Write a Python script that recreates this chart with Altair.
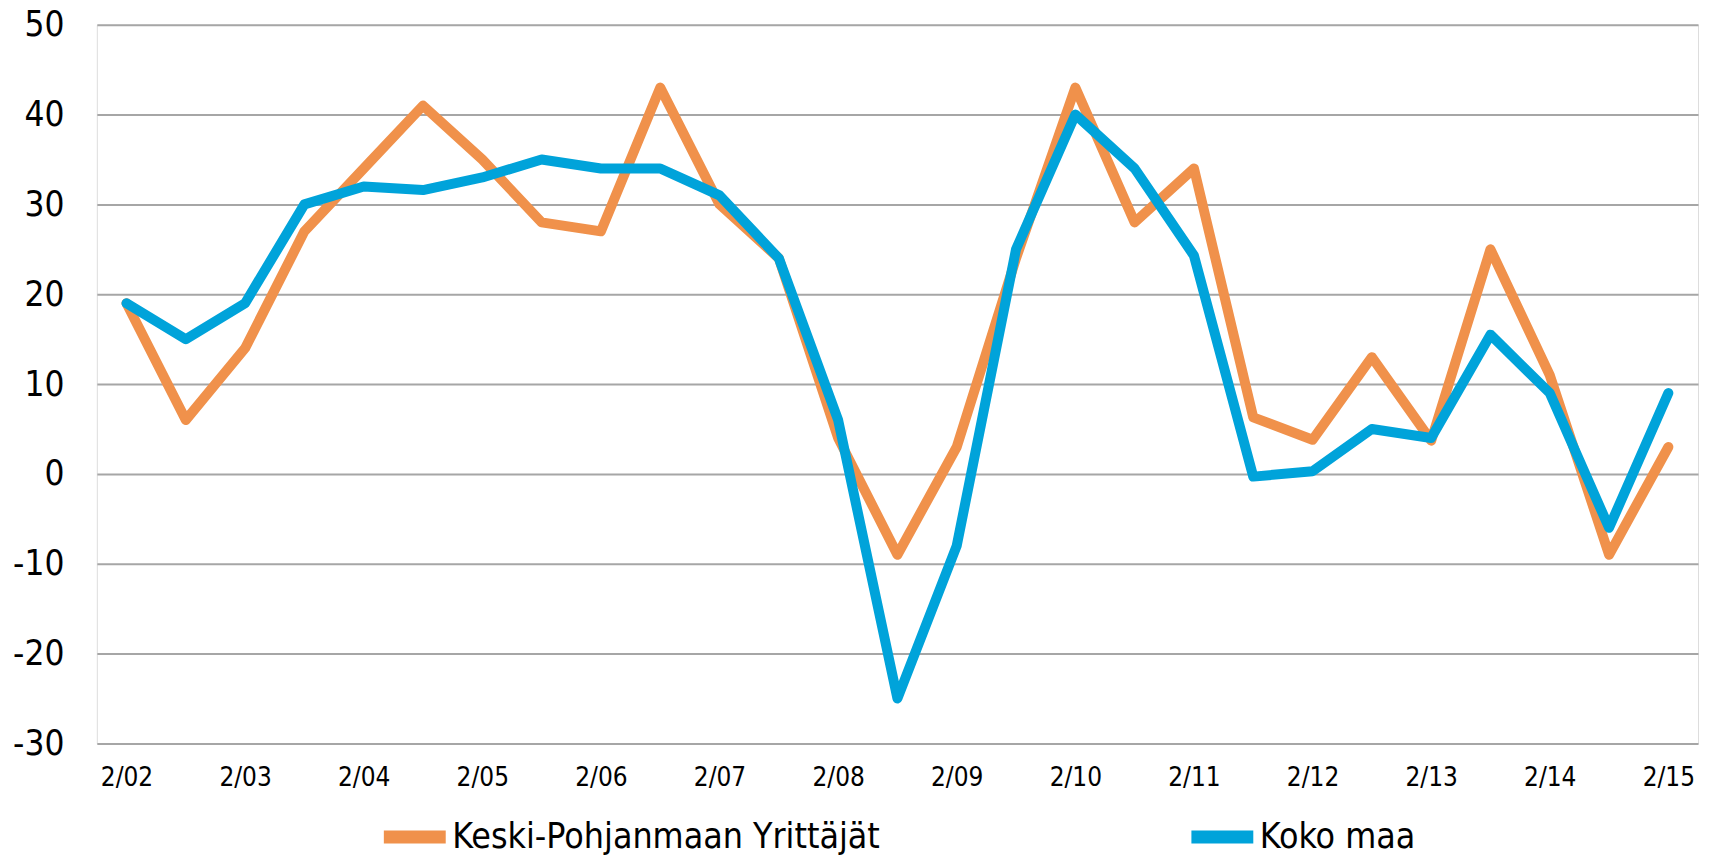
import altair as alt
import pandas as pd

periods = ["2/02", "8/02", "2/03", "8/03", "2/04", "8/04", "2/05", "8/05", "2/06", "8/06",
           "2/07", "8/07", "2/08", "8/08", "2/09", "8/09", "2/10", "8/10", "2/11", "8/11",
           "2/12", "8/12", "2/13", "8/13", "2/14", "8/14", "2/15"]
tick_labels = ["2/02", "2/03", "2/04", "2/05", "2/06", "2/07", "2/08", "2/09", "2/10",
               "2/11", "2/12", "2/13", "2/14", "2/15"]
series_names = ["Keski-Pohjanmaan Yrittäjät", "Koko maa"]
keski = [19, 6, 14, 27, 34, 41, 35, 28, 27, 43, 30, 24, 4, -9, 3, 24, 43, 28, 34, 6.3,
         3.8, 13, 3.7, 25, 11, -9, 3]
koko = [19, 15, 19, 30, 32, 31.6, 33, 35, 34, 34, 31, 24, 6, -25, -8, 25, 40, 34, 24.3,
        -0.3, 0.3, 5, 4, 15.5, 9, -6, 9]
colors = ["#F0914B", "#00A3DA"]
y_ticks = [-30, -20, -10, 0, 10, 20, 30, 40, 50]

rows = []
for name, vals in zip(series_names, [keski, koko]):
    for i, (p, v) in enumerate(zip(periods, vals)):
        rows.append({"period": p, "value": v, "series": name, "order": i})
df = pd.DataFrame(rows)

FONT = "DejaVu Sans Condensed"

chart = alt.Chart(df).mark_line(strokeWidth=10, strokeCap="round", strokeJoin="round").encode(
    x=alt.X("period:N", sort=periods, title=None,
            scale=alt.Scale(type="point", padding=0.5),
            axis=alt.Axis(values=tick_labels, labelAngle=0, ticks=False, domain=False,
                          grid=False, labelFont=FONT, labelFontSize=26, labelColor="#000000",
                          labelPadding=21)),
    y=alt.Y("value:Q", title=None,
            scale=alt.Scale(domain=[-30, 50], nice=False, zero=False),
            axis=alt.Axis(values=y_ticks, ticks=False, domain=False, grid=True,
                          gridColor="#A6A6A6", gridWidth=2, labelFont=FONT,
                          labelFontSize=35, labelColor="#000000", labelPadding=33,
                          labelExpr="'' + datum.value")),
    color=alt.Color("series:N", sort=series_names,
                    scale=alt.Scale(domain=series_names, range=colors),
                    legend=alt.Legend(title=None, orient="none", direction="horizontal",
                                      legendX=281, legendY=776, symbolType="stroke",
                                      symbolSize=3844, symbolStrokeWidth=13,
                                      labelFont=FONT, labelFontSize=35.5,
                                      labelColor="#000000", labelOffset=0,
                                      columnPadding=285, padding=0, labelLimit=1000)),
    order=alt.Order("order:Q"),
).properties(
    width=1604, height=720,
    autosize=alt.AutoSizeParams(type="none"),
    padding={"left": 89, "top": 16, "right": 8, "bottom": 111},
).configure_view(
    stroke="#A6A6A6", strokeWidth=2
).configure(background="white")

chart.save("out.html", embed_options={"renderer": "svg", "actions": False})
